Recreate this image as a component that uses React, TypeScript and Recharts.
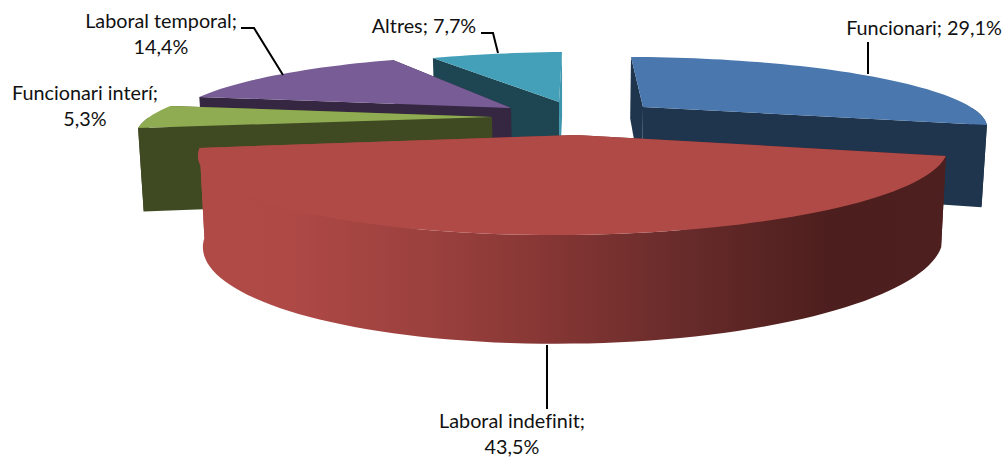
import React from 'react';
import { PieChart, Pie } from 'recharts';

/* ---------------------------------------
   DATA
---------------------------------------- */
const categories = [
  'Funcionari',
  'Laboral indefinit',
  'Funcionari interí',
  'Laboral temporal',
  'Altres',
];
const shares = [29.1, 43.5, 5.3, 14.4, 7.7];

const chartData = categories.map((name, i) => ({ name, value: shares[i] }));

// back to front, the order Excel paints the exploded slices
const paintOrder = [
  'Altres',
  'Laboral temporal',
  'Funcionari interí',
  'Funcionari',
  'Laboral indefinit',
];

/* ---------------------------------------
   LOOK
---------------------------------------- */
const topColors: Record<string, string> = {
  Funcionari: '#4977AE',
  'Laboral indefinit': '#B04A47',
  'Funcionari interí': '#90AC52',
  'Laboral temporal': '#785C95',
  Altres: '#44A0B9',
};
const wallColors: Record<string, string> = {
  Funcionari: '#1F344D',
  'Laboral indefinit': 'url(#redWall)',
  'Funcionari interí': '#3F4A23',
  'Laboral temporal': '#352642',
  Altres: '#1E4652',
};

// perspective of each exploded slice, in pixels
type Frame = {
  ax: number; ay: number; A: number; S: number; B: number; T: number; k: number; D: number;
};
const frames: Record<string, Frame> = {
  Funcionari: { ax: 643, ay: 107, A: 329, S: -15, B: 62.5, T: -0.9, k: 0.25, D: 77 },
  'Laboral indefinit': { ax: 576, ay: 135, A: 367, S: 15, B: 80, T: 0.6, k: 0.2, D: 87 },
  'Funcionari interí': { ax: 492, ay: 117, A: 343.5, S: 24.6, B: 67, T: 0.6, k: 0.2, D: 81 },
  'Laboral temporal': { ax: 511, ay: 108, A: 331.6, S: 17.3, B: 64, T: 0.1, k: 0.2, D: 77 },
  Altres: { ax: 559, ay: 102, A: 326, S: 3.6, B: 60, T: 2.8, k: 0.2, D: 77 },
};

const labelSpots: Record<string, { x: number; y: number; oneLine?: boolean; leader?: string }> = {
  Funcionari: { x: 924, y: 35, oneLine: true, leader: '868,42 868,74' },
  'Laboral indefinit': { x: 512, y: 428, leader: '547,345 547,409' },
  'Funcionari interí': { x: 85, y: 100 },
  'Laboral temporal': { x: 161, y: 28, leader: '241,28 254,28 283,75' },
  Altres: { x: 424, y: 33, oneLine: true, leader: '481,33 493,33 498,53' },
};

/* ---------------------------------------
   PROJECTION
---------------------------------------- */
const project = (f: Frame, deg: number, r: number, down: boolean) => {
  const a = (deg * Math.PI) / 180;
  const u = r * Math.sin(a);
  const v = r * Math.cos(a);
  const w = 1 + f.k * v;
  let x = f.ax + (f.A * u + f.S * v) / w;
  let y = f.ay - (f.B * v + f.T * u) / w;
  if (down) {
    y += f.D / w;
    x = 572 + (x - 572) * 0.987;
  }
  return `${x.toFixed(1)},${y.toFixed(1)}`;
};

const arc = (f: Frame, from: number, to: number, down: boolean) => {
  const pts: string[] = [];
  const steps = Math.max(2, Math.ceil((to - from) / 2));
  for (let i = 0; i <= steps; i++) {
    pts.push(project(f, from + ((to - from) * i) / steps, 1, down));
  }
  return pts;
};

/* ---------------------------------------
   SLICE SHAPE
---------------------------------------- */
const sliceShape = (layer: string) => (props: any) => {
  if (props.name !== layer) return <g />;
  const f = frames[layer];
  const start = 90 - props.startAngle;
  const end = 90 - props.endAngle;
  const wall = wallColors[layer];

  const face = (deg: number) =>
    [
      project(f, deg, 0, false),
      project(f, deg, 1, false),
      project(f, deg, 1, true),
      project(f, deg, 0, true),
    ].join(' ');

  const wallFrom = Math.max(start, 90);
  const wallTo = Math.min(end, 270);
  const outer =
    wallTo > wallFrom
      ? [...arc(f, wallFrom, wallTo, false), ...arc(f, wallFrom, wallTo, true).reverse()].join(' ')
      : null;

  return (
    <g>
      <polygon points={face(start)} fill={wall} />
      <polygon points={face(end)} fill={layer === 'Altres' ? '#3F95AC' : wall} />
      {outer && <polygon points={outer} fill={wall} />}
      <polygon
        points={[project(f, start, 0, false), ...arc(f, start, end, false)].join(' ')}
        fill={topColors[layer]}
      />
    </g>
  );
};

/* ---------------------------------------
   LABELS
---------------------------------------- */
const percentText = (value: number) => `${value.toFixed(1).replace('.', ',')}%`;

const renderLabel = (layer: string) => (props: any) => {
  if (props.name !== layer) return <g />;
  const spot = labelSpots[layer];
  const textStyle = {
    fontFamily: 'Lato, sans-serif',
    fontSize: 19.8,
    fontVariantLigatures: 'none',
    fill: '#111',
  };
  return (
    <g>
      {spot.leader && (
        <polyline points={spot.leader} fill="none" stroke="#000" strokeWidth={2} />
      )}
      {spot.oneLine ? (
        <text x={spot.x} y={spot.y} textAnchor="middle" style={textStyle}>
          {`${layer}; ${percentText(props.value)}`}
        </text>
      ) : (
        <text textAnchor="middle" style={textStyle}>
          <tspan x={spot.x} y={spot.y}>{`${layer};`}</tspan>
          <tspan x={spot.x} y={spot.y + 26}>{percentText(props.value)}</tspan>
        </text>
      )}
    </g>
  );
};

/* ---------------------------------------
   MAIN COMPONENT
---------------------------------------- */
export default function App() {
  return (
    <div style={{ position: 'absolute', left: 0, top: 0, width: 1003, height: 457, background: '#fff' }}>
      <PieChart width={1003} height={457} margin={{ top: 0, right: 0, bottom: 0, left: 0 }}>
        <defs>
          <linearGradient id="redWall" gradientUnits="userSpaceOnUse" x1="200" y1="0" x2="945" y2="0">
            <stop offset="0%" stopColor="#B04A47" />
            <stop offset="12%" stopColor="#AE4946" />
            <stop offset="30%" stopColor="#9C413E" />
            <stop offset="47%" stopColor="#853634" />
            <stop offset="65%" stopColor="#672B2A" />
            <stop offset="85%" stopColor="#4C1E1D" />
            <stop offset="100%" stopColor="#4E1F1F" />
          </linearGradient>
        </defs>
        {paintOrder.map((layer) => (
          <Pie
            key={layer}
            data={chartData}
            dataKey="value"
            nameKey="name"
            cx={572}
            cy={150}
            outerRadius={366}
            startAngle={90}
            endAngle={-270}
            stroke="none"
            isAnimationActive={false}
            shape={sliceShape(layer)}
          />
        ))}
        {/* labels sit above every slice */}
        {paintOrder.map((layer) => (
          <Pie
            key={`label-${layer}`}
            data={chartData}
            dataKey="value"
            nameKey="name"
            cx={572}
            cy={150}
            outerRadius={366}
            startAngle={90}
            endAngle={-270}
            stroke="none"
            fill="none"
            isAnimationActive={false}
            shape={() => <g />}
            label={renderLabel(layer)}
            labelLine={false}
          />
        ))}
      </PieChart>
    </div>
  );
}
